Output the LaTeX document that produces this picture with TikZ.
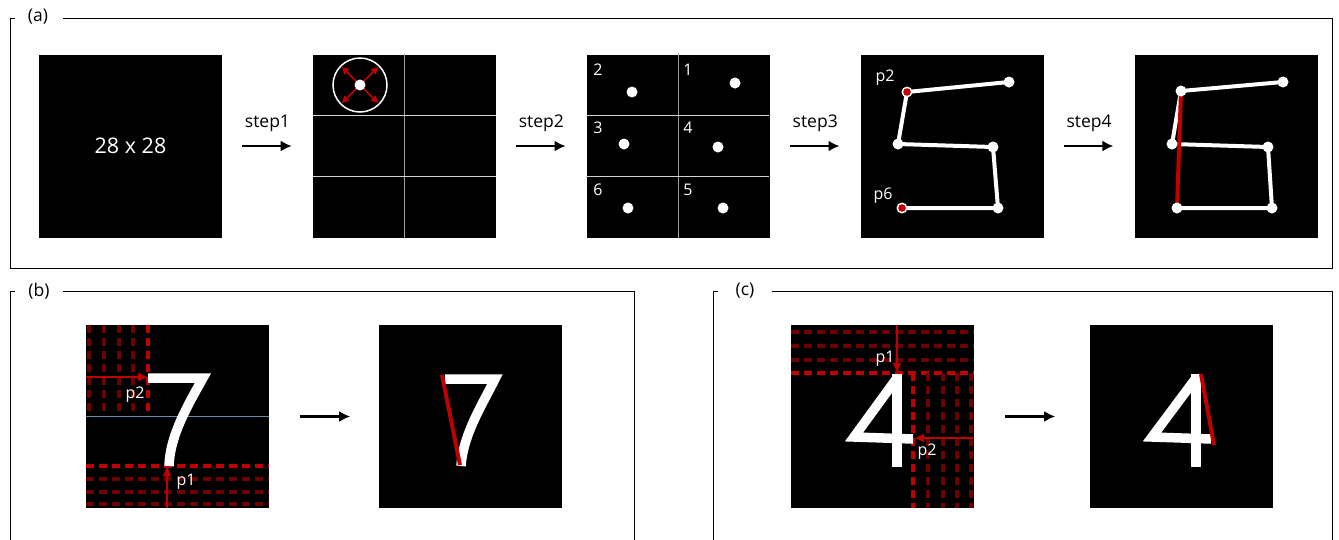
\documentclass[tikz,border=0pt]{standalone}
\usepackage{fontspec}
\setmainfont{Open Sans}
\usetikzlibrary{positioning, arrows.meta}
\definecolor{hotred}{RGB}{192,0,0}
\definecolor{dimred}{RGB}{110,0,0}
\definecolor{cutline}{RGB}{100,140,170}
\tikzset{
  frame/.style={line width=0.8pt}, % outer boxes of the three panels
  tag/.style={font=\fontsize{17.5}{19}\selectfont},
  img/.style={fill=black, minimum size=183pt, inner sep=0pt, text=white},
  steparrow/.style={-{Latex[length=11pt,width=11pt]}, line width=2.8pt,
    shorten <=20pt, shorten >=21pt},
  steptext/.style={font=\fontsize{17.5}{19}\selectfont},
  small/.style={text=white, font=\fontsize{16}{18}\selectfont},
  vline/.style={draw=gray!75, line width=1.2pt},
  hline/.style={draw=gray!35, line width=1.2pt},
  glyph/.style={white, line width=9.5pt, line join=miter},
  stroke/.style={white, line width=4pt},
  cut/.style={hotred, line width=4pt},
  probe/.style={hotred, line width=1.2pt, -{Triangle[length=9pt,width=8pt]}},
  hotdash/.style={hotred, line width=3.2pt, dash pattern=on 8pt off 5pt},
  dimdash/.style={dimred, line width=3.2pt, dash pattern=on 8pt off 5pt},
}

\begin{document}
\begin{tikzpicture}[x=1pt,y=-1pt,node distance=90.5pt]
  \useasboundingbox (0,0) rectangle (1339,539);

  % frames
  \draw[frame] (63,18) -- (1332,18) -- (1332,268) -- (10,268) -- (10,18) -- (15,18);
  \node[tag] (tag_a) at (38,17) {(a)};
  \draw[frame] (63,291) -- (634,291) -- (634,545);
  \draw[frame] (15,291) -- (10,291) -- (10,545);
  \node[tag] (tag_b) at (39,291) {(b)};
  \draw[frame] (772,291) -- (1332,291) -- (1332,545);
  \draw[frame] (718,291) -- (713,291) -- (713,545);
  \node[tag] (tag_c) at (745,291) {(c)};

  % panel (a)
  \node[img, font=\fontsize{21.5}{23}\selectfont] (img_0) at (130.5,146) {28 x 28};
  \node[img, right=of img_0] (img_1) {};
  \node[img, right=of img_1] (img_2) {};
  \node[img, right=of img_2] (img_3) {};
  \node[img, right=of img_3] (img_4) {};

  \draw[steparrow] (img_0) -- node[above=10pt, steptext] {step1} (img_1);
  \draw[steparrow] (img_1) -- node[above=10pt, steptext] {step2} (img_2);
  \draw[steparrow] (img_2) -- node[above=10pt, steptext] {step3} (img_3);
  \draw[steparrow] (img_3) -- node[above=10pt, steptext] {step4} (img_4);

  % grid + search window
  \draw[vline] (img_1.north) -- (img_1.south);
  \draw[hline] (312.5,115.5) -- (495.5,115.5);
  \draw[hline] (312.5,176.5) -- (495.5,176.5);
  \draw[white, line width=1.5pt] (360,85) circle (27);
  \foreach \dx/\dy in {-18/-18, 18/-18, -18/18, 18/18}
    \draw[probe, line width=1.5pt, -{Triangle[length=7pt,width=7pt]}] (360,85) -- ++(\dx,\dy);
  \fill[white] (360,85) circle (5.5);

  % grid + points
  \draw[vline] (img_2.north) -- (img_2.south);
  \draw[hline] (586,115.5) -- (769,115.5);
  \draw[hline] (586,176.5) -- (769,176.5);
  \foreach \n/\x/\y/\px/\py in {2/598/70/632/92, 1/688/70/735/83, 3/598/128/624/144,
      4/688/128/718/147, 6/598/190/628/208, 5/688/190/723/208} {
    \node[small] at (\x,\y) {\n};
    \fill[white] (\px,\py) circle (5.5);
  }

  % joined points
  \coordinate (s_1) at (1009,82);
  \coordinate (s_2) at (907,92);
  \coordinate (s_3) at (898,144);
  \coordinate (s_4) at (993,147);
  \coordinate (s_5) at (998,208);
  \coordinate (s_6) at (902,208);
  \draw[stroke] (s_1) -- (s_2) -- (s_3) -- (s_4) -- (s_5) -- (s_6);
  \foreach \p in {s_1, s_3, s_4, s_5}
    \fill[white] (\p) circle (5.5);
  \fill[white] (s_2) circle (5.5);
  \fill[hotred] (s_2) circle (3.8);
  \fill[white] (s_6) circle (5.5);
  \fill[hotred] (s_6) circle (3.8);
  \node[small] (lab_p2) at (885,78) {p2};
  \node[small] (lab_p6) at (883,196) {p6};

  % repaired stroke
  \coordinate (t_1) at (1283,82);
  \coordinate (t_2) at (1181,91);
  \coordinate (t_3) at (1172,144);
  \coordinate (t_4) at (1268,147);
  \coordinate (t_5) at (1272,208);
  \coordinate (t_6) at (1177,208);
  \draw[stroke] (t_1) -- (t_2) -- (t_3) -- (t_4) -- (t_5) -- (t_6);
  \draw[cut] (t_2) -- (t_6);
  \foreach \p in {t_1, t_2, t_3, t_4, t_5, t_6}
    \fill[white] (\p) circle (5.5);

  % panel (b)
  \node[img] (seven_0) at (177.5,416.5) {};
  \node[img, right=110pt of seven_0] (seven_1) {};
  \draw[steparrow, shorten <=31pt, shorten >=29pt] (seven_0) -- (seven_1);

  \foreach \x in {89,104,119,133}
    \draw[dimdash] (\x,325) -- (\x,415);
  \draw[hotdash] (148,325) -- (148,415);
  \foreach \y in {479,492,504}
    \draw[dimdash] (86,\y) -- (269,\y);
  \draw[hotdash] (86,466) -- (269,466);
  \draw[cutline, line width=1pt] (seven_0.west) -- (seven_0.east);
  \draw[glyph] (148,378) -- (203,378) .. controls (188,405) and (170,435) .. (169,466);
  \draw[probe] (seven_0.west |- 0,377) -- (147,377);
  \draw[probe] (167,508) -- (167,467);
  \node[small] (lab_b2) at (135,395) {p2};
  \node[small] (lab_b1) at (186,482) {p1};

  \draw[glyph] (445,379) -- (495,379) .. controls (482,405) and (463,435) .. (461,466);
  \draw[cut] (442,375) -- (460,465);

  % panel (c)
  \node[img] (four_0) at (882.5,416.5) {};
  \node[img, right=116pt of four_0] (four_1) {};
  \draw[steparrow, shorten <=31pt, shorten >=35pt] (four_0) -- (four_1);

  \foreach \y in {332,346,360}
    \draw[dimdash] (791,\y) -- (974,\y);
  \draw[hotdash] (791,373) -- (974,373);
  \foreach \x in {928,943,957,971}
    \draw[dimdash] (\x,373) -- (\x,508);
  \draw[hotdash] (913,373) -- (913,508);
  \draw[glyph] (897,374) -- (897,467);
  \draw[glyph] (897,378) -- (854,437) -- (913,439);
  \draw[probe] (897,325) -- (897,372);
  \draw[probe] (four_0.east |- 0,438) -- (915,438);
  \node[small] (lab_c1) at (885,359) {p1};
  \node[small] (lab_c2) at (927,452) {p2};

  \draw[glyph] (1196,374) -- (1196,467);
  \draw[glyph] (1196,378) -- (1152,437) -- (1211,439);
  \draw[cut] (1201,374) -- (1214,445);
\end{tikzpicture}
\end{document}
